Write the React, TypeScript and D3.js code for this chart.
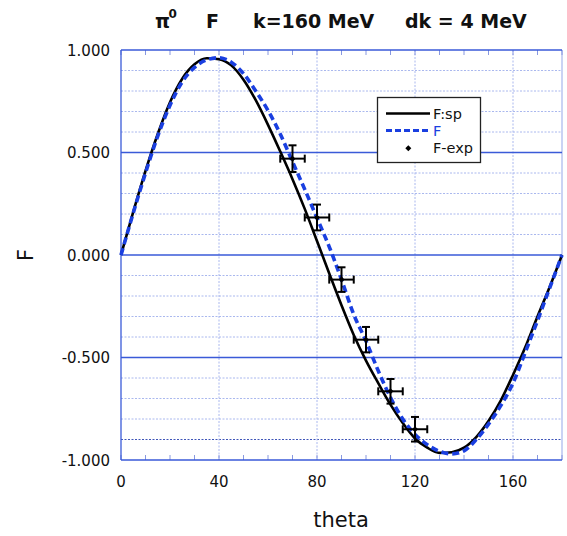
import React from "react";
import * as d3 from "d3";

const thetaGrid = [0, 5, 10, 15, 20, 25, 30, 35, 40, 45, 50, 55, 60, 65, 70, 75, 80, 85, 90, 95, 100, 105, 110, 115, 120, 125, 130, 135, 140, 145, 150, 155, 160, 165, 170, 175, 180];
const fSp = [0, 0.21, 0.41, 0.59, 0.745, 0.86, 0.93, 0.96, 0.955, 0.925, 0.855, 0.755, 0.635, 0.505, 0.37, 0.225, 0.068, -0.09, -0.245, -0.39, -0.515, -0.625, -0.73, -0.82, -0.895, -0.94, -0.965, -0.962, -0.94, -0.888, -0.81, -0.71, -0.585, -0.45, -0.3, -0.155, 0];
const fFull = [0, 0.205, 0.4, 0.58, 0.73, 0.845, 0.915, 0.952, 0.962, 0.94, 0.885, 0.8, 0.705, 0.59, 0.455, 0.32, 0.18, 0.04, -0.12, -0.29, -0.42, -0.565, -0.695, -0.8, -0.875, -0.925, -0.958, -0.97, -0.955, -0.9, -0.825, -0.735, -0.625, -0.475, -0.32, -0.16, 0];
const expTheta = [70, 80, 90, 100, 110, 120];
const expF = [0.47, 0.183, -0.12, -0.413, -0.665, -0.85];
const expFErr = [0.065, 0.063, 0.06, 0.062, 0.06, 0.06];
const expThetaErr = [5, 5, 5, 5, 5, 5];
const xTicks = [0, 40, 80, 120, 160];
const yTicks = [-1, -0.5, 0, 0.5, 1];
const legendLabels = ["F:sp", "F", "F-exp"];

const W = 567, H = 536;
const M = { left: 121, right: 562, top: 50, bottom: 460 };
const FONT = "DejaVu Sans, sans-serif";
const BLUE = "#1a3fe0";

export default function App() {
  const x = d3.scaleLinear().domain([0, 180]).range([M.left, M.right]);
  const y = d3.scaleLinear().domain([-1, 1]).range([M.bottom, M.top]);
  const line = d3.line<[number, number]>().x(d => x(d[0])).y(d => y(d[1])).curve(d3.curveMonotoneX);
  const spPts = thetaGrid.map((t, i) => [t, fSp[i]] as [number, number]);
  const fPts = thetaGrid.map((t, i) => [t, fFull[i]] as [number, number]);
  const minorY = d3.range(-10, 11).map(v => v / 10).filter(v => Math.abs(v * 2 - Math.round(v * 2)) > 1e-6);
  const minorX = d3.range(0, 181, 10);
  const fmt = (v: number) => d3.format(".3f")(v).replace("\u2212", "-");
  const cap = 4;
  return (
    <svg width={W} height={H} style={{ position: "absolute", left: 0, top: 0, background: "#fff" }} fontFamily={FONT}>
      {/* minor horizontal grid */}
      {minorY.map(v => (
        <line key={"my" + v} x1={M.left} x2={M.right} y1={y(v)} y2={y(v)}
          stroke={Math.abs(v + 0.9) < 1e-6 ? "#3f55b8" : "#aab8ee"} strokeWidth={1} strokeDasharray="2,1.5" />
      ))}
      {/* vertical grid */}
      {xTicks.filter(t => t > 0).map(t => (
        <line key={"vx" + t} x1={x(t)} x2={x(t)} y1={M.top} y2={M.bottom} stroke="#aab8ee" strokeWidth={1} strokeDasharray="2,1.5" />
      ))}
      <line x1={M.right} x2={M.right} y1={M.top} y2={M.bottom} stroke="#b8c4f0" strokeWidth={1.5} />
      {/* minor x ticks top and bottom */}
      {minorX.map(t => (
        <g key={"mt" + t}>
          <line x1={x(t)} x2={x(t)} y1={M.bottom} y2={M.bottom - 5} stroke="#8898e0" strokeWidth={1} />
          <line x1={x(t)} x2={x(t)} y1={M.top} y2={M.top + 5} stroke="#8898e0" strokeWidth={1} />
        </g>
      ))}
      {/* major horizontal lines */}
      {yTicks.map(v => (
        <line key={"mj" + v} x1={M.left} x2={M.right} y1={y(v)} y2={y(v)} stroke="#3a5ad8" strokeWidth={1.3} />
      ))}
      <line x1={M.left} x2={M.left} y1={M.top} y2={M.bottom} stroke="#3a5ad8" strokeWidth={1.3} />
      {/* y tick labels */}
      {yTicks.map(v => (
        <text key={"yl" + v} x={110} y={y(v) + 5.5} textAnchor="end" fontSize={15} fill="#111">{fmt(v)}</text>
      ))}
      {xTicks.map(t => (
        <text key={"xl" + t} x={x(t)} y={487} textAnchor="middle" fontSize={15} fill="#111">{t}</text>
      ))}
      <text x={341} y={527} textAnchor="middle" fontSize={21} fill="#111">theta</text>
      <text transform={`translate(33,${y(0)}) rotate(-90)`} textAnchor="middle" fontSize={21} fill="#111">F</text>
      {/* title */}
      <g fontWeight="bold" fontSize={19} fill="#111">
        <text x={155} y={28}>π</text>
        <text x={168.5} y={18} fontSize={12}>0</text>
        <text x={206} y={28}>F</text>
        <text x={253} y={28}>k=160 MeV</text>
        <text x={405} y={28}>dk = 4 MeV</text>
      </g>
      {/* curves */}
      <path d={line(spPts) || ""} fill="none" stroke="#000" strokeWidth={2.6} />
      <path d={line(fPts) || ""} fill="none" stroke={BLUE} strokeWidth={3.6} strokeDasharray="7,4" />
      {/* error bars */}
      {expTheta.map((t, i) => {
        const cx = x(t), cy = y(expF[i]);
        const y1 = y(expF[i] + expFErr[i]), y2 = y(expF[i] - expFErr[i]);
        const x1 = x(t - expThetaErr[i]), x2 = x(t + expThetaErr[i]);
        return (
          <g key={"e" + i} stroke="#000" strokeWidth={2}>
            <line x1={cx} x2={cx} y1={y1} y2={y2} />
            <line x1={cx - cap} x2={cx + cap} y1={y1} y2={y1} />
            <line x1={cx - cap} x2={cx + cap} y1={y2} y2={y2} />
            <line x1={x1} x2={x2} y1={cy} y2={cy} />
            <line x1={x1} x2={x1} y1={cy - cap} y2={cy + cap} />
            <line x1={x2} x2={x2} y1={cy - cap} y2={cy + cap} />
            <path d={`M${cx},${cy - 3}L${cx + 3},${cy}L${cx},${cy + 3}L${cx - 3},${cy}Z`} fill="#000" stroke="none" />
          </g>
        );
      })}
      {/* legend */}
      <g>
        <rect x={377.5} y={97.5} width={103} height={65} fill="#fff" stroke="#222" strokeWidth={1.3} />
        <line x1={386} x2={430} y1={113.5} y2={113.5} stroke="#000" strokeWidth={2.4} />
        <line x1={386} x2={430} y1={130.5} y2={130.5} stroke={BLUE} strokeWidth={3} strokeDasharray="6,3" />
        <path d="M408.3,145.3L411.3,148.3L408.3,151.3L405.3,148.3Z" fill="#000" />
        <text x={433} y={119} fontSize={14.5} fill="#111">{legendLabels[0]}</text>
        <text x={433} y={136} fontSize={14.5} fill={BLUE}>{legendLabels[1]}</text>
        <text x={433} y={153} fontSize={14.5} fill="#111">{legendLabels[2]}</text>
      </g>
    </svg>
  );
}
